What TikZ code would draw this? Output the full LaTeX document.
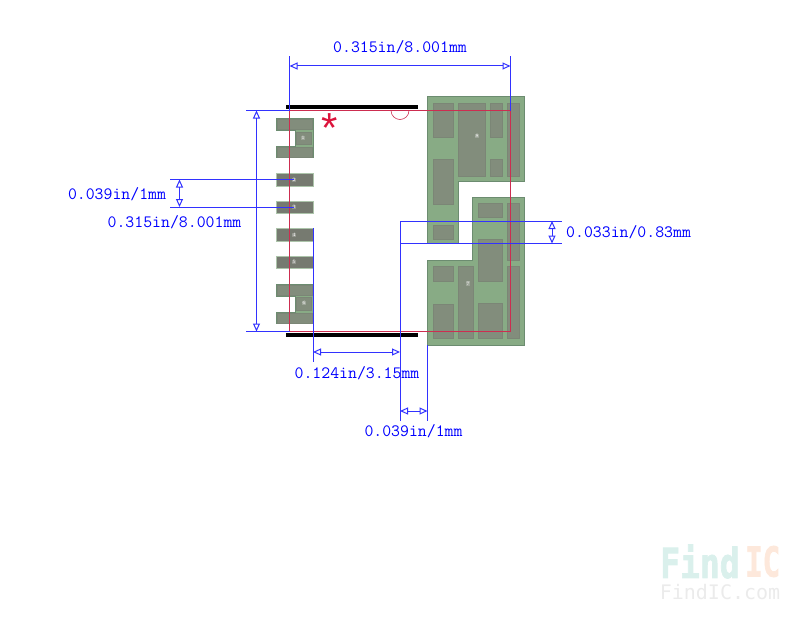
\documentclass[tikz,border=0pt]{standalone}
\usepackage{fontspec}
\newfontfamily\logofont{DejaVu Sans Mono}
\newfontfamily\logoheavy[BoldFeatures={FakeBold=2}]{DejaVu Sans Mono}
\newfontfamily\starfont{Liberation Sans}
\usetikzlibrary{arrows.meta}
\definecolor{dimblue}{RGB}{50,50,255}
\definecolor{refred}{RGB}{205,45,80}
\definecolor{starred}{RGB}{220,20,60}
\definecolor{padgreen}{RGB}{136,171,133}
\definecolor{padedge}{RGB}{108,140,112}
\definecolor{padgrey}{RGB}{130,141,124}
\definecolor{leadgrey}{RGB}{118,122,112}
\definecolor{logoteal}{RGB}{218,240,236}
\definecolor{logoorange}{RGB}{253,232,219}
\tikzset{
  dimline/.style={draw=dimblue,line width=1pt},
  dimarrow/.style={dimline,{Triangle[open,length=8pt,width=7pt]}-{Triangle[open,length=8pt,width=7pt]}},
  reflines/.style={draw=refred,line width=1pt},
  padshape/.style={fill=padgreen,draw=padedge,line width=.8pt},
  inner/.style={fill=padgrey,draw=padgrey!95!black,line width=.3pt},
  leadpad/.style={fill=leadgrey,draw=padgreen!70!white,line width=.8pt},
  pinnum/.style={text=white,font=\fontsize{5}{5}\selectfont,inner sep=.3pt,fill=white,fill opacity=.2,text opacity=1},
  dimtext/.style={text=blue,font=\fontsize{17.3}{17.3}\ttfamily,inner sep=0pt},
  logotext/.style={font=\fontsize{33}{33}\logoheavy\bfseries,inner sep=0pt,yscale=1.25},
}
\begin{document}
\begin{tikzpicture}[x=1pt,y=-1pt]
      \useasboundingbox (0,0) rectangle (800,618);
      % left row
      \draw[padshape](276.5,118.5)--(313,118.5)--(313,157.5)--(276.5,157.5)--(276.5,146)--(295,146)--(295,130)--(276.5,130)--cycle;
      \draw[padshape](276.5,284.5)--(313,284.5)--(313,323.5)--(276.5,323.5)--(276.5,312)--(295,312)--(295,296)--(276.5,296)--cycle;
      \foreach \a/\b/\c/\d in {277.5/119.5/312/129.5,296/132/311/144,277.5/147/312/157,277.5/285/312/295.5,296/297/311/310,277.5/313/312/323}
        \draw[inner](\a,\b)rectangle(\c,\d);
      \foreach \y in {173.5,201,228.5,256}
        \draw[leadpad](276.5,\y)rectangle(313,\y+12.5);
      \foreach \n/\x/\y in {1/303/138,2/294/180,3/294/207,4/294/235,5/294/262,6/304/303}
        \node[pinnum](pin\n) at (\x,\y){\n};
      % right pads
      \draw[padshape](427.5,96.5)--(524.5,96.5)--(524.5,181.5)--(458.5,181.5)--(458.5,243.5)--(427.5,243.5)--cycle;
      \draw[padshape](472.5,197.5)--(524.5,197.5)--(524.5,345)--(427.5,345)--(427.5,260.5)--(472.5,260.5)--cycle;
      \foreach \a/\b/\c/\d in {433/103/453/137.5,458.5/103/485/176,490/103/502.5/137.5,507.5/103/519/176,490/159.5/502.5/176,433/159.5/453/204,433/225/453/239,
                               478.5/203.5/502.5/217.5,507.5/203.5/519/260.5,478.5/239.5/502.5/281,433/266/453/281,458.5/266/473.5/338,433/304.5/453/338,478.5/303.5/502.5/338,507.5/266/519/338}
        \draw[inner](\a,\b)rectangle(\c,\d);
      \node[pinnum](pin8) at (477,136){8};
      \node[pinnum](pin7) at (468,283.5){7};
      % black bars
      \fill[black](286,104.5)rectangle(418,109);
      \fill[black](286,332.8)rectangle(418,337);
      % reference outline
      \coordinate(TL) at (289.5,110.5);
      \coordinate(TR) at (510.5,110.5);
      \coordinate(BL) at (289.5,331.5);
      \coordinate(BR) at (510.5,331.5);
      \draw[reflines](TL)--(TR)--(BR)--(BL)--cycle;
      \draw[reflines,line width=.6pt](391,110.5) arc[start angle=180,end angle=0,radius=9];
      \node[text=starred,font=\fontsize{42}{42}\starfont,inner sep=0pt](star) at (329.5,128){*};
      % top
      \coordinate(T1) at (289.5,66);
      \coordinate(T2) at (510.5,66);
      \draw[dimline](TL)--(289.5,56);
      \draw[dimline](TR)--(510.5,56);
      \draw[dimarrow](T1)--(T2);
      \node[dimtext](toplabel) at (400,47){0.315in/8.001mm};
      % left
      \coordinate(L1) at (256.5,110.5);
      \coordinate(L2) at (256.5,331.5);
      \draw[dimline](246,110.5)--(TL);
      \draw[dimline](246,331.5)--(BL);
      \draw[dimarrow](L1)--(L2);
      \node[dimtext](leftlabel) at (174.5,222){0.315in/8.001mm};
      % pitch
      \coordinate(P1) at (179.5,179.5);
      \coordinate(P2) at (179.5,207);
      \draw[dimline](170,179.5)--(294,179.5);
      \draw[dimline](170,207)--(294,207);
      \draw[dimarrow](P1)--(P2);
      \node[dimtext](pitchlabel) at (117,194){0.039in/1mm};
      % bottom
      \coordinate(B1) at (313,352);
      \coordinate(B2) at (400,352);
      \coordinate(B3) at (427.5,411);
      \coordinate(B4) at (400,411);
      \draw[dimline](313,228)--(313,362);
      \draw[dimline](400,421)--(400,221)--(562,221);
      \draw[dimline](400,243.5)--(562,243.5);
      \draw[dimline](427.5,345)--(427.5,421);
      \draw[dimarrow](B1)--(B2);
      \draw[dimarrow](B4)--(B3);
      \node[dimtext](gaplabel) at (357,373){0.124in/3.15mm};
      \node[dimtext](padlabel) at (413.5,431){0.039in/1mm};
      % right
      \coordinate(R1) at (552,221);
      \coordinate(R2) at (552,243.5);
      \draw[dimarrow](R1)--(R2);
      \node[dimtext,anchor=west](rightlabel) at (566,232){0.033in/0.83mm};
      % logo
      \node[logotext,text=logoteal,anchor=west](logoa) at (660,561.5){Find};
      \node[logotext,text=logoorange,anchor=west,xscale=.88](logob) at (745,561.5){IC};
      \node[font=\fontsize{20}{20}\logofont,text=black!8,inner sep=0pt](logoc) at (720,592){FindIC.com};
\end{tikzpicture}
\end{document}
